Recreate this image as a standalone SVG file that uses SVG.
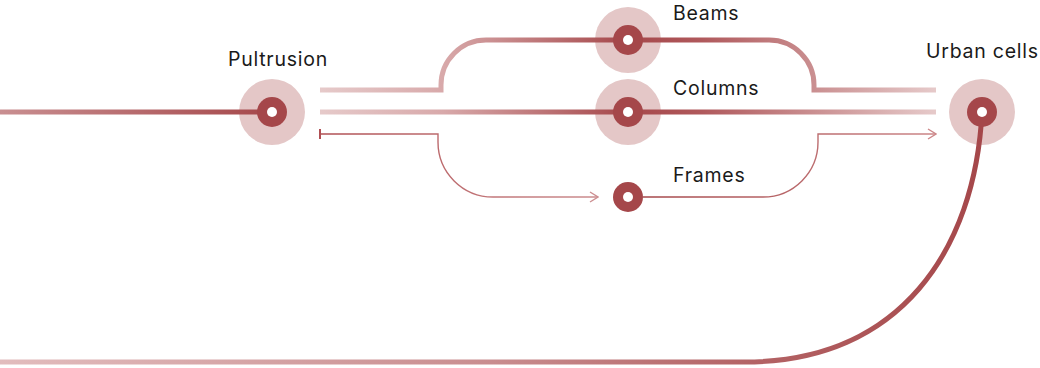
<svg xmlns="http://www.w3.org/2000/svg" width="1040" height="368" viewBox="0 0 1040 368">
  <style>
    .halo { fill: #e4c7c7; }
    .core { fill: #a5474a; }
    .hole { fill: #ffffff; }
    .label { font-family: Inter, "Liberation Sans", sans-serif; font-size: 19.5px; letter-spacing: 0.75px; fill: #1a1a1a; }
    .thick { fill: none; stroke-width: 5; }
    .thin { fill: none; stroke-width: 1.4; }
  </style>
  <defs>
    <linearGradient id="gIn" gradientUnits="userSpaceOnUse" x1="0" y1="0" x2="272" y2="0">
      <stop offset="0" stop-color="#c98f91"/>
      <stop offset="1" stop-color="#a5474a"/>
    </linearGradient>
    <linearGradient id="gBranch" gradientUnits="userSpaceOnUse" x1="320" y1="0" x2="936" y2="0">
      <stop offset="0" stop-color="#e6caca"/>
      <stop offset="0.2" stop-color="#d8a9aa"/>
      <stop offset="0.5" stop-color="#a5474a"/>
      <stop offset="0.62" stop-color="#b0595c"/>
      <stop offset="1" stop-color="#e6caca"/>
    </linearGradient>
    <linearGradient id="gThinL" gradientUnits="userSpaceOnUse" x1="320" y1="0" x2="600" y2="0">
      <stop offset="0" stop-color="#b04f53"/>
      <stop offset="1" stop-color="#cc8e90"/>
    </linearGradient>
    <linearGradient id="gThinR" gradientUnits="userSpaceOnUse" x1="643" y1="0" x2="938" y2="0">
      <stop offset="0" stop-color="#a5474a"/>
      <stop offset="1" stop-color="#cc8789"/>
    </linearGradient>
    <linearGradient id="gReturn" gradientUnits="userSpaceOnUse" x1="0" y1="0" x2="982" y2="0">
      <stop offset="0" stop-color="#e2bcbd"/>
      <stop offset="0.5" stop-color="#c98d8f"/>
      <stop offset="0.76" stop-color="#b46466"/>
      <stop offset="1" stop-color="#a5474a"/>
    </linearGradient>
    <marker id="arrowL" viewBox="0 0 10 12" refX="9" refY="6" markerWidth="10" markerHeight="12" markerUnits="userSpaceOnUse" orient="auto">
      <path d="M1,1 L9,6 L1,11" fill="none" stroke="#cc8e90" stroke-width="1.4"/>
    </marker>
    <marker id="arrowR" viewBox="0 0 10 12" refX="9" refY="6" markerWidth="10" markerHeight="12" markerUnits="userSpaceOnUse" orient="auto">
      <path d="M1,1 L9,6 L1,11" fill="none" stroke="#cc8789" stroke-width="1.4"/>
    </marker>
    <marker id="tick" viewBox="0 0 4 12" refX="1" refY="6" markerWidth="4" markerHeight="12" markerUnits="userSpaceOnUse" orient="auto">
      <line x1="1" y1="1" x2="1" y2="11" stroke="#b04f53" stroke-width="2"/>
    </marker>
  </defs>

  <!-- halos sit underneath the lines -->
  <g id="halos">
    <circle class="halo" cx="272" cy="112" r="33"/>
    <circle class="halo" cx="628" cy="40" r="33"/>
    <circle class="halo" cx="628" cy="112" r="33"/>
    <circle class="halo" cx="982" cy="112" r="33"/>
  </g>

  <g id="connectors">
    <!-- incoming feed -->
    <path class="thick" stroke="url(#gIn)" d="M0,112 H272"/>
    <!-- beams branch -->
    <path class="thick" stroke="url(#gBranch)" d="M320,90 H441 V85 A45,45 0 0 1 486,40 H769 A45,45 0 0 1 814,85 V90 H936"/>
    <!-- columns branch -->
    <path class="thick" stroke="url(#gBranch)" d="M320,112 H936"/>
    <!-- frames branch -->
    <path class="thin" stroke="url(#gThinL)" marker-start="url(#tick)" marker-end="url(#arrowL)" d="M320,134 H438 V142 A55,55 0 0 0 493,197 H598"/>
    <path class="thin" stroke="url(#gThinR)" marker-end="url(#arrowR)" d="M643,197 H763 A55,55 0 0 0 818,142 V134 H936"/>
    <!-- return loop -->
    <path class="thick" stroke="url(#gReturn)" d="M982,112 C975,250 900,362 745,362 H0"/>
  </g>

  <g id="pultrusion">
    <circle class="core" cx="272" cy="112" r="15"/>
    <circle class="hole" cx="272" cy="112" r="5"/>
    <text class="label" x="228" y="66">Pultrusion</text>
  </g>
  <g id="beams">
    <circle class="core" cx="628" cy="40" r="15"/>
    <circle class="hole" cx="628" cy="40" r="5"/>
    <text class="label" x="673" y="20">Beams</text>
  </g>
  <g id="columns">
    <circle class="core" cx="628" cy="112" r="15"/>
    <circle class="hole" cx="628" cy="112" r="5"/>
    <text class="label" x="673" y="95">Columns</text>
  </g>
  <g id="frames">
    <circle class="core" cx="628" cy="197" r="15"/>
    <circle class="hole" cx="628" cy="197" r="5"/>
    <text class="label" x="673" y="182">Frames</text>
  </g>
  <g id="urban-cells">
    <circle class="core" cx="982" cy="112" r="15"/>
    <circle class="hole" cx="982" cy="112" r="5"/>
    <text class="label" x="926" y="58">Urban cells</text>
  </g>
</svg>
